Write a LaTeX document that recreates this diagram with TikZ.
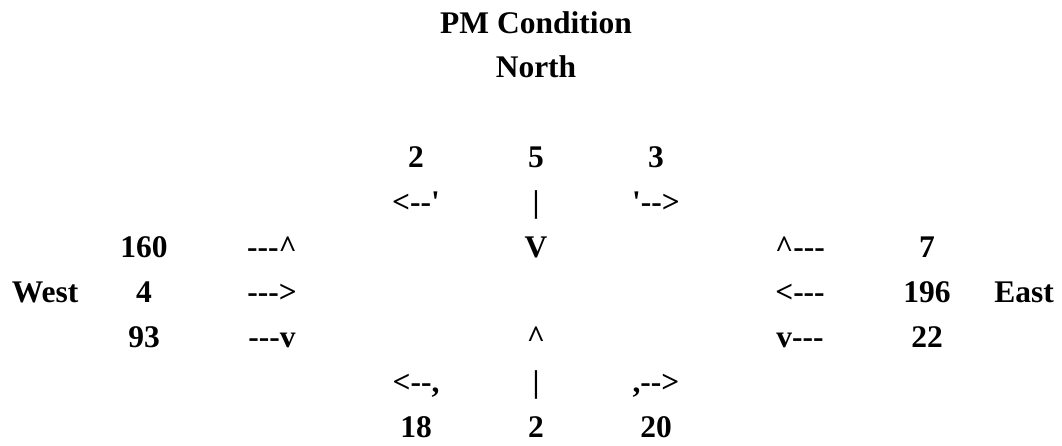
\documentclass[tikz,border=0pt]{standalone}
\usepackage{fontspec}
\newfontfamily\tnr{Liberation Serif}
\tikzset{txt/.style={anchor=base, inner sep=0pt, font=\tnr\bfseries\fontsize{31.5}{31.5}\selectfont}}
\begin{document}
\begin{tikzpicture}[x=1pt,y=-1pt]
\useasboundingbox (0,0) rectangle (1062,445);
% title
\node[txt] (title) at (536,33) {PM Condition};
\node[txt] (north) at (536,77.5) {North};
% north approach
\node[txt] (nL) at (416,167.7) {2};
\node[txt] (nT) at (536,167.7) {5};
\node[txt] (nR) at (656,167.7) {3};
\node[txt] (naL) at (416,212.6) {<--'};
\node[txt] (naT) at (536,212.6) {|};
\node[txt] (naR) at (656,212.6) {'-->};
% row 160
\node[txt] (wL) at (144,257.5) {160};
\node[txt] (waL) at (272,257.5) {---\textasciicircum};
\node[txt] (nV) at (536,257.5) {V};
\node[txt] (eaR) at (800,257.5) {\textasciicircum---};
\node[txt] (eR) at (927,257.5) {7};
% row West
\node[txt] (west) at (45,302.4) {West};
\node[txt] (wT) at (144,302.4) {4};
\node[txt] (waT) at (272,302.4) {--->};
\node[txt] (eaT) at (800,302.4) {<---};
\node[txt] (eT) at (927,302.4) {196};
\node[txt] (east) at (1024,302.4) {East};
% row 93
\node[txt] (wR) at (144,347.3) {93};
\node[txt] (waR) at (272,347.3) {---v};
\node[txt] (sA) at (536,347.3) {\textasciicircum};
\node[txt] (eaL) at (800,347.3) {v---};
\node[txt] (eL) at (927,347.3) {22};
% south approach
\node[txt] (saR) at (416,392.2) {<--,};
\node[txt] (saT) at (536,392.2) {|};
\node[txt] (saL) at (656,392.2) {,-->};
\node[txt] (sR) at (416,437.1) {18};
\node[txt] (sT) at (536,437.1) {2};
\node[txt] (sL) at (656,437.1) {20};
\end{tikzpicture}
\end{document}
